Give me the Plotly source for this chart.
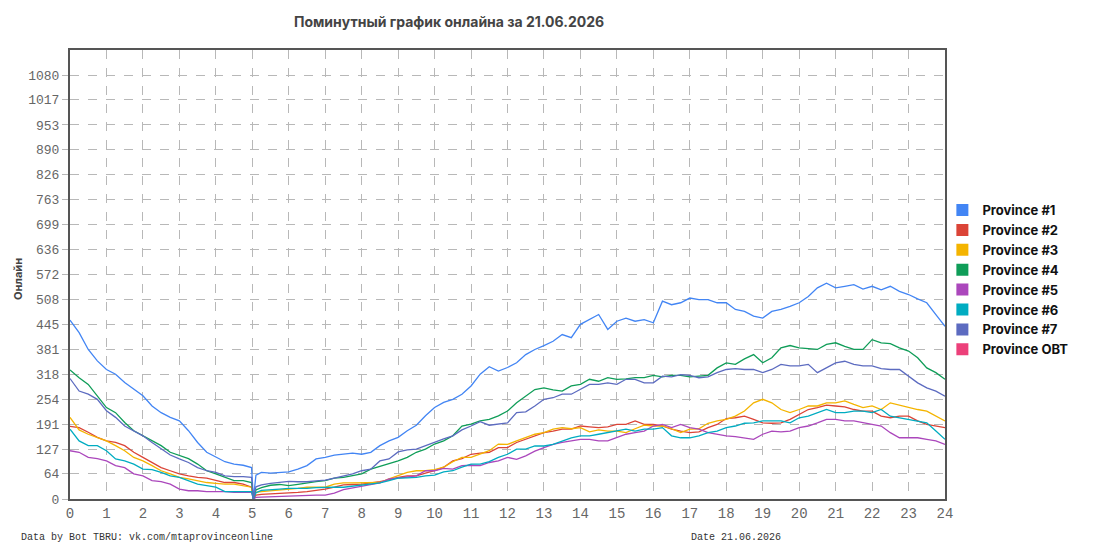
import numpy as np
import plotly.graph_objects as go

# hours (x); includes the short outage right after 05:00
hours = (list(np.arange(0, 5.0, 0.25)) + [4.98, 5.03, 5.1, 5.25, 5.5, 5.75]
         + list(np.arange(6, 24.001, 0.25)))

names = ["Province #1", "Province #2", "Province #3", "Province #4",
         "Province #5", "Province #6", "Province #7", "Province OBT"]
colors = ["#4285F4", "#DB4437", "#F4B400", "#0F9D58",
          "#AB47BC", "#00ACC1", "#5C6BC0", "#EC407A"]

p1 = [456, 424, 381, 352, 330, 318, 297, 281, 263, 237, 220, 208, 199, 174, 144, 119, 106, 95, 89, 86, 80,
      0, 61, 68, 66, 68,
      69, 76, 85, 102, 106, 112, 114, 117, 114, 119, 136, 148, 157, 174, 188, 212, 233, 246, 254, 267, 288, 318, 337, 326,
      335, 347, 368, 381, 391, 402, 419, 411, 445, 457, 470, 432, 453, 461, 453, 457, 449, 504, 495, 500, 512, 508, 508, 500,
      500, 483, 478, 466, 461, 478, 483, 491, 500, 516, 538, 550, 538, 542, 546, 535, 542, 533, 542, 529, 521, 510, 500, 470, 440]
p2 = [185, 182, 170, 157, 148, 144, 136, 119, 106, 93, 80, 72, 64, 59, 55, 53, 47, 42, 42, 38, 30,
      0, 10, 12, 13, 14,
      15, 17, 19, 22, 25, 30, 36, 37, 38, 41, 44, 49, 55, 59, 59, 66, 72, 81, 97, 103, 114, 117, 119, 131,
      131, 144, 152, 161, 169, 173, 178, 178, 186, 184, 182, 184, 190, 190, 199, 190, 190, 186, 178, 173, 169, 171, 182, 190,
      205, 207, 211, 203, 194, 193, 194, 203, 216, 228, 233, 239, 237, 235, 228, 224, 224, 211, 207, 211, 211, 199, 190, 186, 182]
p3 = [208, 176, 165, 157, 148, 136, 123, 106, 97, 85, 72, 64, 55, 51, 47, 42, 40, 38, 38, 34, 30,
      0, 17, 19, 21, 23,
      24, 27, 30, 30, 30, 38, 41, 41, 41, 41, 42, 51, 59, 68, 72, 72, 75, 81, 95, 106, 106, 114, 123, 140,
      139, 148, 156, 165, 169, 178, 182, 179, 182, 171, 176, 173, 173, 169, 179, 188, 186, 186, 179, 169, 178, 179, 193, 199,
      203, 211, 224, 245, 254, 245, 228, 220, 228, 237, 237, 245, 245, 250, 241, 233, 237, 228, 245, 239, 233, 228, 224, 211, 199]
p4 = [329, 309, 292, 263, 233, 220, 195, 174, 161, 148, 136, 119, 112, 103, 89, 72, 64, 55, 47, 47, 42,
      0, 23, 29, 35, 37,
      34, 37, 41, 44, 47, 53, 55, 59, 64, 76, 83, 89, 97, 106, 119, 127, 140, 148, 161, 186, 191, 199, 203, 212,
      224, 245, 261, 279, 283, 278, 275, 288, 292, 305, 300, 309, 305, 306, 309, 309, 315, 311, 315, 315, 311, 313, 315, 334,
      347, 343, 357, 368, 347, 360, 385, 391, 385, 383, 381, 394, 398, 389, 381, 381, 406, 398, 396, 385, 377, 360, 334, 322, 305]
p5 = [123, 119, 106, 103, 97, 85, 80, 64, 59, 47, 44, 38, 25, 21, 21, 19, 19, 19, 17, 17, 17,
      0, 4, 5, 6, 7,
      8, 9, 10, 10, 10, 15, 24, 28, 32, 36, 41, 51, 53, 56, 59, 72, 72, 78, 76, 85, 86, 85, 93, 97,
      106, 101, 110, 122, 131, 139, 144, 148, 152, 152, 148, 148, 156, 165, 169, 173, 186, 190, 182, 190, 182, 178, 169, 165,
      161, 159, 156, 152, 165, 173, 171, 173, 182, 186, 194, 203, 203, 199, 199, 194, 190, 186, 169, 156, 156, 156, 152, 148, 139]
p6 = [178, 148, 136, 136, 123, 102, 97, 89, 76, 75, 68, 59, 55, 47, 38, 34, 30, 19, 19, 19, 19,
      0, 16, 22, 23, 25,
      27, 27, 27, 29, 30, 30, 30, 33, 36, 38, 41, 47, 53, 54, 55, 59, 61, 69, 72, 81, 89, 89, 95, 106,
      114, 127, 127, 135, 135, 139, 148, 156, 161, 161, 165, 169, 173, 178, 173, 178, 178, 182, 161, 156, 156, 161, 169, 173,
      182, 186, 193, 194, 199, 199, 199, 194, 207, 211, 220, 228, 220, 220, 224, 224, 220, 228, 211, 207, 203, 199, 194, 173, 152]
p7 = [307, 275, 267, 254, 225, 208, 186, 174, 161, 144, 127, 112, 102, 93, 80, 72, 68, 59, 57, 57, 55,
      0, 31, 36, 40, 43,
      45, 44, 44, 46, 48, 53, 58, 64, 72, 76, 97, 102, 120, 125, 127, 136, 146, 153, 161, 176, 186, 197, 188, 191,
      194, 220, 222, 237, 254, 258, 267, 267, 279, 292, 292, 296, 292, 305, 305, 296, 296, 313, 311, 317, 315, 309, 311, 322,
      330, 332, 330, 330, 322, 330, 343, 339, 339, 343, 322, 334, 347, 351, 343, 339, 339, 332, 330, 330, 313, 296, 283, 275, 262]
p_obt = []  # no data shown for this server

series = [p1, p2, p3, p4, p5, p6, p7, p_obt]

y_max = 1144
y_ticks = [0, 64, 127, 191, 254, 318, 381, 445, 508, 572, 636, 699, 763, 826, 890, 953, 1017, 1080]
x_ticks = list(range(0, 25))

fig = go.Figure()
for name, col, vals in zip(names, colors, series):
    if vals:
        fig.add_trace(go.Scatter(x=hours[:len(vals)], y=vals, mode="lines",
                                 line=dict(color=col, width=1.3), name=name,
                                 showlegend=False, hoverinfo="skip"))
    fig.add_trace(go.Scatter(x=[None], y=[None], mode="markers", name=name,
                             marker=dict(symbol="square", size=12, color=col),
                             showlegend=True))

mono = "Liberation Mono, DejaVu Sans Mono, monospace"
fig.update_layout(
    width=1095, height=550,
    paper_bgcolor="white", plot_bgcolor="white",
    margin=dict(l=70, r=150, t=50, b=51, autoexpand=False),
    title=dict(text="<b>Поминутный график онлайна за 21.06.2026</b>",
               x=449 / 1095, xanchor="center", xref="container",
               y=1 - 22 / 550, yanchor="middle", yref="container",
               font=dict(family="Inter, Roboto, sans-serif", size=14, color="#444")),
    legend=dict(x=0.997, xanchor="left", y=0.677, yanchor="top",
                font=dict(family="Inter, Roboto, sans-serif", size=13, color="#111", weight="bold"),
                itemsizing="constant", itemwidth=30, tracegroupgap=0, bgcolor="rgba(0,0,0,0)"),
    xaxis=dict(range=[0, 24], tickvals=x_ticks, ticktext=[str(t) for t in x_ticks],
               automargin=False,
               showgrid=True, gridcolor="#b8b8b8", griddash="dash", gridwidth=1,
               showline=True, linecolor="#555", linewidth=2, mirror=True,
               zeroline=False, ticks="", ticklen=0,
               tickfont=dict(family=mono, size=14, color="#666")),
    yaxis=dict(range=[0, y_max], tickvals=y_ticks, ticktext=[str(t) for t in y_ticks],
               automargin=False,
               showgrid=True, gridcolor="#b8b8b8", griddash="dash", gridwidth=1,
               showline=True, linecolor="#555", linewidth=2, mirror=True,
               zeroline=False, ticks="outside", ticklen=6, tickcolor="#b8b8b8",
               tickfont=dict(family=mono, size=13, color="#666")),
    annotations=[
        dict(text="<b>Онлайн</b>", x=-0.0594, y=0.49, xref="paper", yref="paper",
             textangle=-90, showarrow=False, xanchor="center", yanchor="middle",
             font=dict(family="Inter, Roboto, sans-serif", size=11, color="#444")),
        dict(text="Data by Bot TBRU: vk.com/mtaprovinceonline", x=(19 - 70) / 875,
             y=(499 - 537) / 449, xref="paper", yref="paper", showarrow=False,
             xanchor="left", yanchor="middle",
             font=dict(family=mono, size=10, color="#333")),
        dict(text="Date 21.06.2026", x=(736 - 70) / 875, y=(499 - 537) / 449,
             xref="paper", yref="paper", showarrow=False,
             xanchor="center", yanchor="middle",
             font=dict(family=mono, size=10, color="#333")),
    ],
)

fig.write_html("out.html", config={"displayModeBar": False},
               post_script="document.body.style.margin='0';")
